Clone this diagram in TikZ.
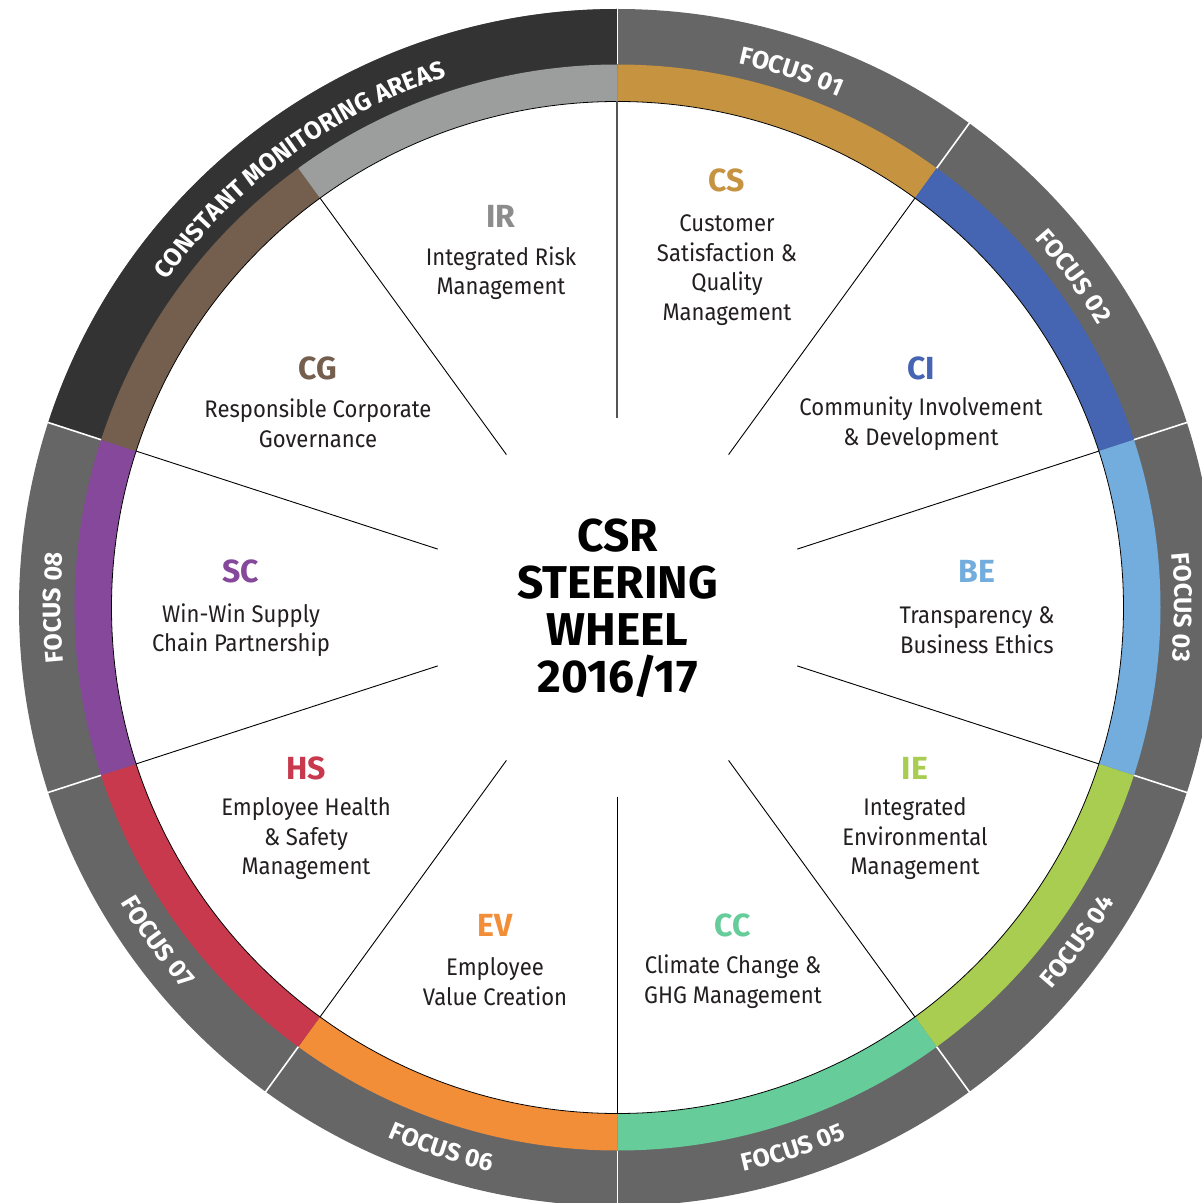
\documentclass[tikz,border=0pt]{standalone}
\usepackage{fontspec}
\setmainfont{Fira Sans}
\newfontfamily\descfont{Fira Sans}[FakeStretch=0.92]
\usetikzlibrary{decorations.text}
\definecolor{ringgray}{HTML}{666666}
\definecolor{cmagray}{HTML}{333333}
\definecolor{cCS}{HTML}{C69340}
\definecolor{cCI}{HTML}{4564B2}
\definecolor{cBE}{HTML}{72ADDD}
\definecolor{cIE}{HTML}{A8CD50}
\definecolor{cCC}{HTML}{66CC99}
\definecolor{cEV}{HTML}{F28D38}
\definecolor{cHS}{HTML}{C8394D}
\definecolor{cSC}{HTML}{86489A}
\definecolor{cCG}{HTML}{745E4E}
\definecolor{cIR}{HTML}{9C9E9D}
\definecolor{cIRtxt}{HTML}{8C8C8C}
\definecolor{desctxt}{HTML}{231F20}
\definecolor{topdiv}{HTML}{555555}
\newcommand{\focusfmt}{\bfseries\fontsize{25}{30}\selectfont}
\begin{document}
\begin{tikzpicture}[x=1pt,y=1pt,
  abbr/.style={font=\bfseries\fontsize{32}{36}\selectfont, inner sep=0pt},
  desc/.style={font=\descfont\fontsize{24}{29.5}\selectfont, align=center, text=desctxt, inner sep=0pt},
  titlebox/.style={font=\bfseries\fontsize{46}{47}\selectfont, align=center, inner sep=0pt},
  divider/.style={line width=0.9pt, black},
  sepline/.style={white, line width=1.6pt},
  cwtext/.style={decorate, decoration={text along path, text align=center, text color=white, text={|\focusfmt|#1}}},
]
\useasboundingbox (-617.5,-595.5) rectangle (584.5,607.5);
\clip (-617.5,-595.5) rectangle (584.5,607.5);
\fill[white] (-617.5,-595.5) rectangle (584.5,607.5);
% outer ring
\fill[ringgray] (0,0) circle[radius=598.5pt];
\fill[cmagray] (90:540pt) arc[start angle=90, end angle=162, radius=540pt] -- (162:598.5pt) arc[start angle=162, end angle=90, radius=598.5pt] -- cycle;
% coloured ring
\foreach \c [count=\i from 0] in {cCS,cCI,cBE,cIE,cCC,cEV,cHS,cSC,cCG,cIR} {
  \pgfmathsetmacro\aa{90-36*\i}
  \pgfmathsetmacro\bb{54-36*\i}
  \fill[\c] (\aa:505pt) arc[start angle=\aa, end angle=\bb, radius=505pt] -- (\bb:543pt) arc[start angle=\bb, end angle=\aa, radius=543pt] -- cycle;
}
% inner disc
\draw[black, line width=0.8pt, fill=white] (0,0) circle[radius=506pt];
% separators in outer ring
\foreach \a in {90,54,18,-18,-54,-90,-126,-162,162} {
  \draw[sepline] (\a:543pt) -- (\a:600pt);
}
% dividers
\draw[topdiv, line width=2pt] (90:189pt) -- (90:506pt);
\foreach \a in {54,18,-18,-54,-90,-126,-162,162,126} {
  \draw[divider] (\a:189pt) -- (\a:506pt);
}
% ring texts
\path[cwtext={FOCUS 01}] (92:557pt) arc[start angle=92, end angle=52, radius=557pt];
\path[cwtext={FOCUS 02}] (56:557pt) arc[start angle=56, end angle=16, radius=557pt];
\path[cwtext={FOCUS 03}] (20:557pt) arc[start angle=20, end angle=-20, radius=557pt];
\path[cwtext={FOCUS 08}] (200:557pt) arc[start angle=200, end angle=160, radius=557pt];
\path[cwtext={CONSTANT MONITORING AREAS}] (160:557pt) arc[start angle=160, end angle=92, radius=557pt];
\path[cwtext={FOCUS 04}] (-56:578pt) arc[start angle=-56, end angle=-16, radius=578pt];
\path[cwtext={FOCUS 05}] (-92:578pt) arc[start angle=-92, end angle=-52, radius=578pt];
\path[cwtext={FOCUS 06}] (-128:578pt) arc[start angle=-128, end angle=-88, radius=578pt];
\path[cwtext={FOCUS 07}] (-164:578pt) arc[start angle=-164, end angle=-124, radius=578pt];
% centre title
\node[titlebox] (title) at (0,-1) {CSR\\STEERING\\WHEEL\\2016/17};
% segment labels
\node[abbr, text=cCS] (csA) at (109.5,427) {CS};
\node[desc] (csD) at (109.5,337.5) {Customer\\Satisfaction \&\\Quality\\Management};
\node[abbr, text=cCI] (ciA) at (303.5,239.5) {CI};
\node[desc] (ciD) at (303.5,184) {Community Involvement\\\& Development};
\node[abbr, text=cBE] (beA) at (359.5,36.5) {BE};
\node[desc] (beD) at (359.5,-22.5) {Transparency \&\\Business Ethics};
\node[abbr, text=cIE] (ieA) at (297.5,-160.5) {IE};
\node[desc] (ieD) at (297.5,-231.5) {Integrated\\Environmental\\Management};
\node[abbr, text=cCC] (ccA) at (115.5,-317.5) {CC};
\node[desc] (ccD) at (115.5,-374) {Climate Change \&\\GHG Management};
\node[abbr, text=cEV] (evA) at (-122.5,-317.5) {EV};
\node[desc] (evD) at (-122.5,-374) {Employee\\Value Creation};
\node[abbr, text=cHS] (hsA) at (-311.5,-160.5) {HS};
\node[desc] (hsD) at (-311.5,-231.5) {Employee Health\\\& Safety\\Management};
\node[abbr, text=cSC] (scA) at (-376.5,36.5) {SC};
\node[desc] (scD) at (-376.5,-22.5) {Win-Win Supply\\Chain Partnership};
\node[abbr, text=cCG] (cgA) at (-299.5,239.5) {CG};
\node[desc] (cgD) at (-299.5,184) {Responsible Corporate\\Governance};
\node[abbr, text=cIRtxt] (irA) at (-116.5,391.5) {IR};
\node[desc] (irD) at (-116.5,334.5) {Integrated Risk\\Management};
\end{tikzpicture}
\end{document}
